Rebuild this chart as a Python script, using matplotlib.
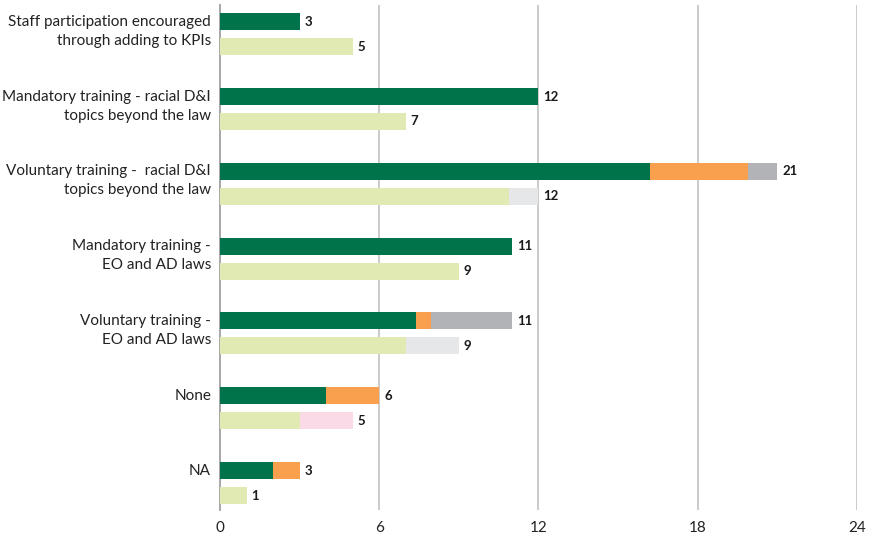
import numpy as np
import matplotlib
matplotlib.use("Agg")
import matplotlib.pyplot as plt

plt.rcParams['font.family'] = ['Lato', 'DejaVu Sans']

# categories, top to bottom
categories = [
    "Staff participation encouraged\nthrough adding to KPIs",
    "Mandatory training - racial D&I\ntopics beyond the law",
    "Voluntary training -  racial D&I\ntopics beyond the law",
    "Mandatory training -\nEO and AD laws",
    "Voluntary training -\nEO and AD laws",
    "None",
    "NA",
]

# upper bar of each pair: three stacked segments
upper_a = [3, 12, 16.2, 11, 7.4, 4, 2]
upper_b = [0, 0, 3.7, 0, 0.55, 2, 1]
upper_c = [0, 0, 1.1, 0, 3.05, 0, 0]
upper_total = [3, 12, 21, 11, 11, 6, 3]

# lower bar of each pair: three stacked segments
lower_a = [5, 7, 10.9, 9, 7, 3, 1]
lower_b = [0, 0, 1.1, 0, 2, 0, 0]
lower_c = [0, 0, 0, 0, 0, 2, 0]
lower_total = [5, 7, 12, 9, 9, 5, 1]

x_ticks = [0, 6, 12, 18, 24]

c_dark = "#00734A"
c_orange = "#F9A04F"
c_grey = "#B1B3B6"
c_light = "#E0EAB2"
c_lgrey = "#E6E7E8"
c_pink = "#FBDAE8"

fig = plt.figure(figsize=(8.77, 5.38), dpi=100)
ax = fig.add_axes([0.2509, 0.052, 0.7261, 0.9387])

y = np.arange(len(categories), dtype=float)
y2 = y + 0.334
h = 0.227

ua, ub, uc = np.array(upper_a), np.array(upper_b), np.array(upper_c)
la, lb, lc = np.array(lower_a), np.array(lower_b), np.array(lower_c)

ax.barh(y, ua, height=h, color=c_dark, zorder=3)
ax.barh(y, ub, left=ua, height=h, color=c_orange, zorder=3)
ax.barh(y, uc, left=ua + ub, height=h, color=c_grey, zorder=3)

ax.barh(y2, la, height=h, color=c_light, zorder=3)
ax.barh(y2, lb, left=la, height=h, color=c_lgrey, zorder=3)
ax.barh(y2, lc, left=la + lb, height=h, color=c_pink, zorder=3)

for yy, tot in zip(y, upper_total):
    ax.annotate(str(tot), xy=(tot, yy), xytext=(3.5, 0), textcoords="offset points",
                ha="left", va="center", fontsize=9.5, fontweight="bold", color="#1a1a1a")
for yy, tot in zip(y2, lower_total):
    ax.annotate(str(tot), xy=(tot, yy), xytext=(3.5, 0), textcoords="offset points",
                ha="left", va="center", fontsize=9.5, fontweight="bold", color="#1a1a1a")

# category names: first line level with the upper bar
for yy, name in zip(y, categories):
    for k, line in enumerate(name.split("\n")):
        ax.annotate(line, xy=(0, yy), xycoords=("axes fraction", "data"),
                    xytext=(-6.5, -13.7 * k), textcoords="offset points",
                    ha="right", va="center", fontsize=11, color="#222222")

ax.set_xlim(0, 24)
ax.set_ylim(6.527, -0.223)
ax.set_xticks(x_ticks)
ax.set_xticklabels([str(t) for t in x_ticks], fontsize=11, color="#222222")
ax.set_yticks([])
ax.tick_params(axis="x", length=0, pad=8)

for s in ["top", "right", "bottom"]:
    ax.spines[s].set_visible(False)
ax.spines["left"].set_color("#A8A8A8")
ax.spines["left"].set_linewidth(1.4)

ax.grid(axis="x", color="#BDBDBD", linewidth=1.1)
ax.set_axisbelow(True)

fig.savefig("out.png", dpi=100)
